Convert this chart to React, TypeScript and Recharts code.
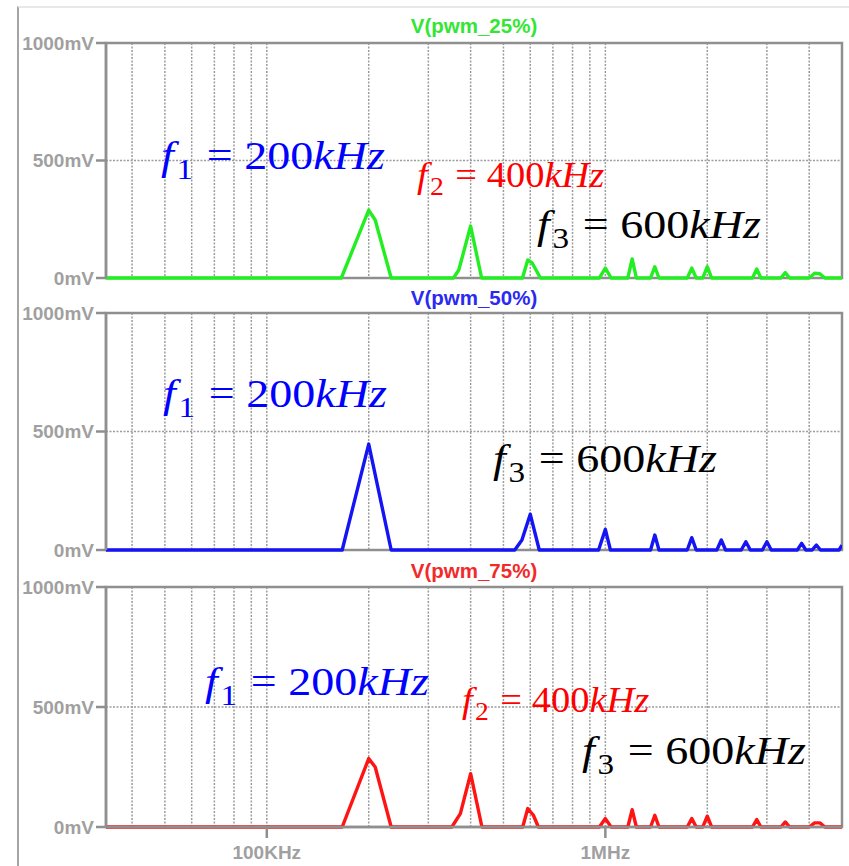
import { LineChart, Line, XAxis, YAxis, CartesianGrid, ReferenceArea } from "recharts"

// frequencies in kHz, amplitudes in mV
const freqTicks = [40, 50, 60, 70, 80, 90, 100, 200, 300, 400, 500, 600, 700, 800, 900, 1000, 2000, 3000, 4000]
const voltTicks = [0, 500, 1000]
const xLabels: Record<number, string> = { 100: "100KHz", 1000: "1MHz" }

const pwm25Freq = [33.5, 166, 200, 209, 233, 356, 369, 400, 431, 569, 590, 608, 643, 960, 1000, 1040, 1165, 1200, 1235, 1360, 1400, 1440, 1745, 1800, 1855, 1940, 2000, 2060, 2720, 2800, 2880, 3300, 3400, 3500, 4000, 4150, 4300, 4450, 5000]
const pwm25mV = [0, 0, 289, 247, 0, 0, 34, 221, 0, 0, 77, 64, 0, 0, 42, 0, 0, 81, 0, 0, 48, 0, 0, 42, 0, 0, 48, 0, 0, 38, 0, 0, 23, 0, 0, 20, 18, 0, 0]

const pwm50Freq = [33.5, 167, 200, 233, 540, 567, 600, 638, 955, 1000, 1035, 1360, 1400, 1440, 1745, 1800, 1855, 2135, 2200, 2265, 2520, 2600, 2680, 2910, 3000, 3090, 3690, 3800, 3910, 4080, 4200, 4320, 4900, 5000]
const pwm50mV = [0, 0, 447, 0, 0, 42, 151, 0, 0, 87, 0, 0, 63, 0, 0, 52, 0, 0, 42, 0, 0, 35, 0, 0, 35, 0, 0, 28, 0, 0, 21, 0, 0, 20]

const pwm75Freq = [33.5, 167, 200, 209, 233, 352, 373, 400, 432, 570, 590, 613, 634, 960, 1000, 1040, 1165, 1200, 1235, 1360, 1400, 1440, 1745, 1800, 1855, 1940, 2000, 2060, 2720, 2800, 2880, 3300, 3400, 3500, 4000, 4150, 4300, 4450, 5000]
const pwm75mV = [0, 0, 285, 250, 0, 0, 56, 222, 0, 0, 77, 49, 0, 0, 35, 0, 0, 72, 0, 0, 49, 0, 0, 35, 0, 0, 45, 0, 0, 31, 0, 0, 21, 0, 0, 17, 17, 0, 0]

const toData = (f: number[], v: number[]) => f.map((x, i) => ({ f: x, v: v[i] }))

const GRAY = "#8f8f8f"
const LABEL = "#a0a0a0"
const SANS = "'Liberation Sans', Arial, sans-serif"

function FreqTick(props: any) {
  const { x, y, payload, show } = props
  const label = xLabels[payload.value]
  if (!label || !show) return <g />
  return (
    <g>
      <line x1={x} x2={x} y1={y - 8} y2={y + 3} stroke={GRAY} strokeWidth={2.5} />
      <text x={x} y={y + 24} textAnchor="middle" fill={LABEL} fontSize={19} fontWeight="bold" fontFamily={SANS}>
        {label}
      </text>
    </g>
  )
}

function Panel({ top, height, marginTop, marginBottom, data, color, showX }: any) {
  return (
    <div style={{ position: "absolute", left: 0, top, width: 849, height }}>
      <LineChart
        width={849}
        height={height}
        data={data}
        margin={{ top: marginTop, right: 7, left: 46, bottom: marginBottom }}
      >
        <CartesianGrid stroke="#9c9c9c" strokeDasharray="2 1.5" strokeWidth={1.5} />
        <XAxis
          dataKey="f"
          type="number"
          scale="log"
          domain={[33.5, 5000]}
          allowDataOverflow
          ticks={freqTicks}
          interval={0}
          height={showX ? 39 : 0}
          axisLine={showX ? { stroke: GRAY, strokeWidth: 2.5 } : false}
          tickLine={false}
          tick={<FreqTick show={!!showX} />}
        />
        <YAxis
          width={60}
          domain={[0, 1000]}
          ticks={voltTicks}
          interval={0}
          tickFormatter={(v: number) => `${v}mV`}
          tickSize={10}
          axisLine={{ stroke: GRAY, strokeWidth: 2.5 }}
          tickLine={{ stroke: GRAY, strokeWidth: 2.5 }}
          tick={{ fill: LABEL, fontSize: 19, fontWeight: "bold", fontFamily: SANS }}
        />
        <ReferenceArea x1={33.5} x2={5000} y1={0} y2={1000} fill="none" fillOpacity={0} stroke={GRAY} strokeWidth={2.5} />
        <Line
          type="linear"
          dataKey="v"
          stroke={color}
          strokeWidth={3.4}
          dot={false}
          strokeLinejoin="round"
          isAnimationActive={false}
        />
      </LineChart>
    </div>
  )
}

function Title({ y, text, color }: any) {
  return (
    <div
      style={{
        position: "absolute",
        left: 274,
        width: 400,
        top: y - 12,
        height: 24,
        lineHeight: "24px",
        textAlign: "center",
        fontFamily: SANS,
        fontWeight: "bold",
        fontSize: 20.5,
        color,
      }}
    >
      {text}
    </div>
  )
}

function Formula({ x, base, size, color, sub, value, sx }: any) {
  return (
    <div
      style={{
        position: "absolute",
        left: x,
        top: base - 0.8375 * size,
        fontFamily: "'Liberation Serif', 'Times New Roman', serif",
        fontSize: size,
        lineHeight: `${size}px`,
        color,
        whiteSpace: "nowrap",
        transform: `scaleX(${sx})`,
        transformOrigin: "left",
      }}
    >
      <span style={{ fontStyle: "italic" }}>f</span>
      <span style={{ fontSize: "0.72em", position: "relative", top: 0.25 * size, marginLeft: "0.08em" }}>{sub}</span>
      <span style={{ margin: "0 0.25em 0 0.3em" }}>=</span>
      <span>{value}</span>
      <span style={{ fontStyle: "italic" }}>kHz</span>
    </div>
  )
}

export default function App() {
  return (
    <div style={{ position: "absolute", left: 0, top: 0, width: 849, height: 866, background: "#fff", overflow: "hidden" }}>
      <div
        style={{
          position: "absolute",
          left: 17,
          top: 6,
          width: 840,
          height: 880,
          borderLeft: "2px solid #a4a4a4",
          borderTop: "2px solid #e8e8e8",
        }}
      />
      <Panel top={0} height={290} marginTop={43} marginBottom={12} data={toData(pwm25Freq, pwm25mV)} color="#22ee22" />
      <Panel top={290} height={270} marginTop={23} marginBottom={10} data={toData(pwm50Freq, pwm50mV)} color="#1414f5" />
      <Panel top={560} height={306} marginTop={27} marginBottom={0} data={toData(pwm75Freq, pwm75mV)} color="#ff1414" showX />

      <Title y={26} text="V(pwm_25%)" color="#33e633" />
      <Title y={298} text="V(pwm_50%)" color="#2a2af0" />
      <Title y={571} text="V(pwm_75%)" color="#f22a2a" />

      <Formula x={161} base={169.5} size={40} sx={1.15} color="#0000ff" sub="1" value="200" />
      <Formula x={417} base={187} size={35} sx={1.1} color="#ff0000" sub="2" value="400" />
      <Formula x={537} base={238} size={40} sx={1.15} color="#000" sub="3" value="600" />

      <Formula x={163} base={407} size={40} sx={1.15} color="#0000ff" sub="1" value="200" />
      <Formula x={493} base={472} size={40} sx={1.15} color="#000" sub="3" value="600" />

      <Formula x={205} base={695} size={40} sx={1.15} color="#0000ff" sub="1" value="200" />
      <Formula x={462} base={712} size={35} sx={1.1} color="#ff0000" sub="2" value="400" />
      <Formula x={582} base={764} size={40} sx={1.15} color="#000" sub="3" value="600" />
    </div>
  )
}
